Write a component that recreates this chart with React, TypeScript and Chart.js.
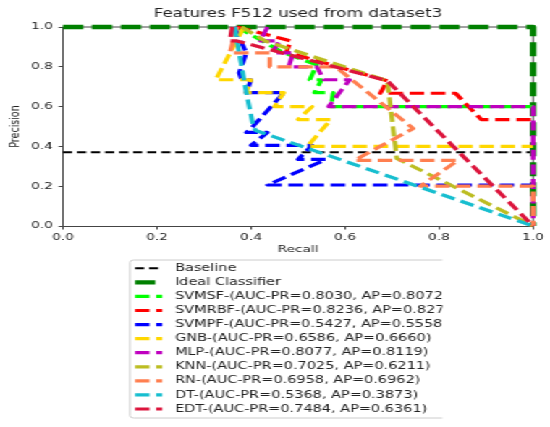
import React, { useEffect, useRef } from "react";
import { Chart, registerables } from "chart.js";

Chart.register(...registerables);

// ---------- text ----------
const TITLE = "Features F512 used from dataset3";
const X_LABEL = "Recall";
const Y_LABEL = "Precision";
const TICK_VALUES = [0, 0.2, 0.4, 0.6, 0.8, 1.0];

// ---------- data (recall = x, precision = y) ----------
const baselineRecall = [0, 1];
const baselinePrecision = [0.37, 0.37];

const idealRecall = [0, 1, 1];
const idealPrecision = [1, 1, 0];

const svmsfRecall = [0.37, 0.47, 0.54, 0.525, 0.55, 0.535, 0.575, 0.57, 1.0];
const svmsfPrecision = [1.0, 0.87, 0.81, 0.735, 0.735, 0.67, 0.67, 0.6, 0.6];

const svmrbfRecall = [0.37, 0.485, 0.475, 0.6, 0.69, 0.675, 0.835, 0.89, 1.0];
const svmrbfPrecision = [1.0, 0.93, 0.875, 0.79, 0.73, 0.667, 0.667, 0.535, 0.535];

const svmpfRecall = [0.365, 0.39, 0.375, 0.38, 0.4, 0.39, 0.47, 0.4, 0.39, 0.435, 0.4, 0.53, 0.5, 0.56, 0.435, 1.0];
const svmpfPrecision = [1.0, 0.87, 0.77, 0.735, 0.735, 0.67, 0.67, 0.49, 0.47, 0.47, 0.405, 0.405, 0.335, 0.335, 0.206, 0.206];

const gnbRecall = [0.385, 0.325, 0.4, 0.39, 0.47, 0.45, 0.53, 0.5, 0.57, 0.52, 1.0];
const gnbPrecision = [1.0, 0.735, 0.735, 0.67, 0.67, 0.6, 0.6, 0.535, 0.535, 0.4, 0.4];

const mlpRecall = [0.435, 0.42, 0.46, 0.445, 0.49, 0.48, 0.54, 0.555, 0.61, 0.565, 1.0, 1.0];
const mlpPrecision = [1.0, 0.93, 0.93, 0.87, 0.87, 0.8, 0.8, 0.735, 0.735, 0.6, 0.6, 0.0];

const knnRecall = [0.38, 0.43, 0.69, 0.71, 1.0];
const knnPrecision = [1.0, 0.93, 0.73, 0.34, 0.0];

const rnRecall = [0.37, 0.355, 0.44, 0.44, 0.58, 0.745, 0.62, 0.84, 0.76, 1.0, 1.0];
const rnPrecision = [1.0, 0.87, 0.87, 0.8, 0.8, 0.49, 0.33, 0.33, 0.2, 0.2, 0.0];

const dtRecall = [0.365, 0.39, 0.405, 0.41, 1.0];
const dtPrecision = [1.0, 0.67, 0.5, 0.48, 0.0];

const edtRecall = [0.36, 0.355, 0.37, 0.69, 1.0];
const edtPrecision = [1.0, 0.93, 0.93, 0.73, 0.0];

const LEGEND_LABELS = [
  "Baseline",
  "Ideal Classifier",
  "SVMSF-(AUC-PR=0.8030, AP=0.8072)",
  "SVMRBF-(AUC-PR=0.8236, AP=0.8277)",
  "SVMPF-(AUC-PR=0.5427, AP=0.5558)",
  "GNB-(AUC-PR=0.6586, AP=0.6660)",
  "MLP-(AUC-PR=0.8077, AP=0.8119)",
  "KNN-(AUC-PR=0.7025, AP=0.6211)",
  "RN-(AUC-PR=0.6958, AP=0.6962)",
  "DT-(AUC-PR=0.5368, AP=0.3873)",
  "EDT-(AUC-PR=0.7484, AP=0.6361)",
];

const SERIES_RECALL = [
  baselineRecall, idealRecall, svmsfRecall, svmrbfRecall, svmpfRecall,
  gnbRecall, mlpRecall, knnRecall, rnRecall, dtRecall, edtRecall,
];
const SERIES_PRECISION = [
  baselinePrecision, idealPrecision, svmsfPrecision, svmrbfPrecision, svmpfPrecision,
  gnbPrecision, mlpPrecision, knnPrecision, rnPrecision, dtPrecision, edtPrecision,
];

const COLORS = [
  "#000000", "#008000", "#00ff00", "#ff0000", "#0000ff",
  "#ffd700", "#bf00bf", "#bcbd22", "#ff7f50", "#17becf", "#dc143c",
];

// ---------- styling ----------
const FONT = '"DejaVu Sans", sans-serif';
const CANVAS_W = 380;
const CANVAS_H = 427;
const STRETCH = 550 / CANVAS_W;

const LINE_W = [2, 4.4, 3.2, 3.2, 3.2, 3.2, 3.2, 3.2, 3.2, 3.2, 3.2];
const DASHES = [
  [6.3, 3.4],
  [14, 6],
  [10, 4.6], [10, 4.6], [10, 4.6], [10, 4.6], [10, 4.6], [10, 4.6], [10, 4.6], [10, 4.6], [10, 4.6],
];

const overlayPlugin = {
  id: "overlay",
  beforeDatasetsDraw(chart: any) {
    const { ctx, chartArea: ca } = chart;
    ctx.save();
    ctx.strokeStyle = "#444";
    ctx.lineWidth = 1;
    ctx.beginPath();
    ctx.moveTo(ca.left, ca.top);
    ctx.lineTo(ca.right, ca.top);
    ctx.lineTo(ca.right, ca.bottom);
    ctx.stroke();
    ctx.restore();
  },
  afterDraw(chart: any) {
    const { ctx, chartArea: ca } = chart;
    const cx = (ca.left + ca.right) / 2;
    ctx.save();
    ctx.fillStyle = "#222";
    ctx.textAlign = "center";
    ctx.textBaseline = "middle";
    ctx.font = `11.6px ${FONT}`;
    ctx.fillText(TITLE, cx, 13.5);
    ctx.font = `9.5px ${FONT}`;
    ctx.fillText(X_LABEL, cx, 250);
    ctx.save();
    ctx.translate(10.8, (ca.top + ca.bottom) / 2);
    ctx.rotate(-Math.PI / 2);
    ctx.fillText(Y_LABEL, 0, 0);
    ctx.restore();

    // legend
    const boxL = 89.8;
    const boxT = 260;
    const boxB = 418;
    const clipR = 305.5;
    ctx.save();
    ctx.beginPath();
    ctx.rect(0, 0, clipR, CANVAS_H);
    ctx.clip();
    ctx.fillStyle = "rgba(255,255,255,0.8)";
    ctx.strokeStyle = "#cccccc";
    ctx.lineWidth = 1;
    ctx.beginPath();
    (ctx as any).roundRect(boxL, boxT, 330 - boxL, boxB - boxT, 2.5);
    ctx.fill();
    ctx.stroke();
    ctx.font = `10px ${FONT}`;
    ctx.textAlign = "left";
    ctx.textBaseline = "middle";
    for (let i = 0; i < LEGEND_LABELS.length; i++) {
      const y = 268.3 + i * 14.07;
      ctx.save();
      ctx.strokeStyle = COLORS[i];
      ctx.lineWidth = LINE_W[i];
      ctx.setLineDash(DASHES[i]);
      ctx.beginPath();
      ctx.moveTo(93.3, y);
      ctx.lineTo(112.1, y);
      ctx.stroke();
      ctx.restore();
      ctx.fillStyle = "#222";
      ctx.fillText(LEGEND_LABELS[i], 120.9, y);
    }
    ctx.restore();
    ctx.restore();
  },
};

export default function App() {
  const canvasRef = useRef<HTMLCanvasElement | null>(null);

  useEffect(() => {
    const canvas = canvasRef.current;
    if (!canvas) return;
    const n = SERIES_RECALL.length;
    const datasets = SERIES_RECALL.map((rx, i) => ({
      label: LEGEND_LABELS[i],
      data: rx.map((x, j) => ({ x, y: SERIES_PRECISION[i][j] })),
      borderColor: COLORS[i],
      backgroundColor: COLORS[i],
      borderWidth: LINE_W[i],
      borderDash: DASHES[i],
      borderCapStyle: "butt",
      borderJoinStyle: "round",
      pointRadius: 0,
      pointHoverRadius: 0,
      showLine: true,
      fill: false,
      tension: 0,
      clip: 6,
      order: n - i,
    }));

    const tickCfg = {
      font: { family: FONT, size: 9.5 },
      color: "#222",
      autoSkip: false,
      maxRotation: 0,
      stepSize: 0.2,
      callback: (v: any) => Number(v).toFixed(1),
    };

    const chart = new Chart(canvas, {
      type: "scatter",
      data: { datasets } as any,
      options: {
        animation: false,
        responsive: false,
        events: [],
        layout: { padding: { top: 27, right: 11.7, left: 0, bottom: 0 } },
        plugins: {
          legend: { display: false },
          title: { display: false },
          tooltip: { enabled: false },
        },
        scales: {
          x: {
            type: "linear",
            min: 0,
            max: 1,
            afterBuildTicks: (s: any) => {
              s.ticks = TICK_VALUES.map((v) => ({ value: v }));
            },
            afterFit: (s: any) => {
              s.height = 201;
            },
            ticks: { ...tickCfg, padding: 2 },
            grid: { display: true, drawOnChartArea: false, drawTicks: true, tickLength: 3.5, color: "#444", lineWidth: 1 },
            border: { display: true, color: "#444", width: 1 },
          },
          y: {
            type: "linear",
            min: 0,
            max: 1,
            afterBuildTicks: (s: any) => {
              s.ticks = TICK_VALUES.map((v) => ({ value: v }));
            },
            afterFit: (s: any) => {
              s.width = 43.5;
            },
            ticks: { ...tickCfg, padding: 4 },
            grid: { display: true, drawOnChartArea: false, drawTicks: true, tickLength: 3, color: "#444", lineWidth: 1 },
            border: { display: true, color: "#444", width: 1 },
          },
        },
      } as any,
      plugins: [overlayPlugin],
    });
    return () => chart.destroy();
  }, []);

  return (
    <div
      style={{
        position: "fixed",
        left: 0,
        top: 0,
        width: CANVAS_W,
        height: CANVAS_H,
        transform: `scaleX(${STRETCH})`,
        transformOrigin: "0 0",
        background: "#fff",
      }}
    >
      <canvas
        ref={canvasRef}
        width={CANVAS_W}
        height={CANVAS_H}
        style={{ display: "block", width: CANVAS_W, height: CANVAS_H }}
      />
    </div>
  );
}
